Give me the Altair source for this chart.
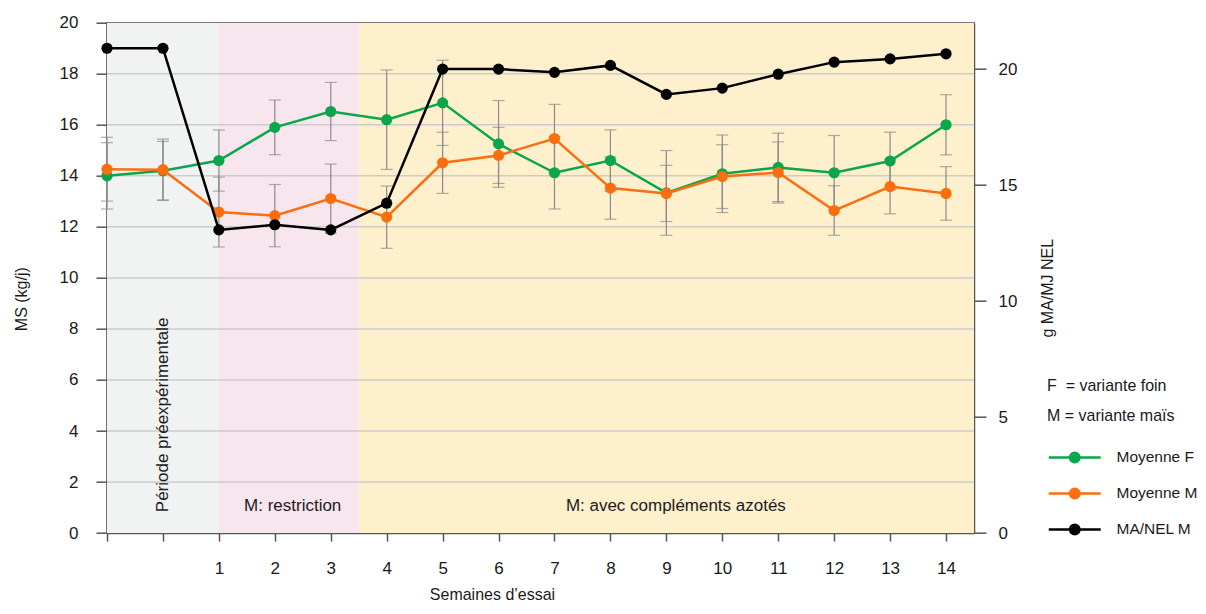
import altair as alt
import pandas as pd

# ---------------- data ----------------
weeks = [-1, 0, 1, 2, 3, 4, 5, 6, 7, 8, 9, 10, 11, 12, 13, 14]
x_tick_values = weeks

f_mean = [14.0, 14.2, 14.6, 15.9, 16.52, 16.2, 16.86, 15.25, 14.12, 14.6, 13.33, 14.08, 14.33, 14.12, 14.58, 16.0]
f_err = [1.3, 1.15, 1.2, 1.07, 1.14, 1.95, 1.67, 1.7, 1.42, 1.2, 1.66, 1.52, 1.34, 1.46, 1.13, 1.18]

m_mean = [14.26, 14.24, 12.58, 12.44, 13.11, 12.38, 14.51, 14.8, 15.46, 13.52, 13.31, 13.97, 14.13, 12.64, 13.58, 13.31]
m_err = [1.25, 1.2, 1.37, 1.22, 1.35, 1.22, 1.2, 1.1, 1.34, 1.22, 1.1, 1.25, 1.2, 0.97, 1.07, 1.05]

nel_m = [20.9, 20.9, 13.07, 13.29, 13.07, 14.22, 20.0, 20.0, 19.86, 20.16, 18.91, 19.18, 19.78, 20.3, 20.44, 20.66]

series_names = ["Moyenne F", "Moyenne M", "MA/NEL M"]
series_colors = ["#0BA64B", "#FA6E10", "#000000"]

band_start = [-1, 1, 3.5]
band_end = [1, 3.5, 14.5]
band_colors = ["#F1F2F2", "#F8E6EE", "#FEF0CD"]

grid_values = [2, 4, 6, 8, 10, 12, 14, 16, 18]
left_ticks = [0, 2, 4, 6, 8, 10, 12, 14, 16, 18, 20]
right_ticks = [0, 5, 10, 15, 20]

note_h_text = ["M: restriction", "M: avec compléments azotés"]
note_h_x = [2.32, 9.17]
note_h_y = [1.07, 1.07]
note_v_text = ["Période préexpérimentale"]
note_v_x = [0.0]
note_v_y = [0.82]

legend_title = ["F\u00a0\u00a0= variante foin", "M\u00a0= variante maïs"]

W, H = 867, 510.4
FONT = "Liberation Sans"
TXT = "#1a1a1a"
AX = "#555555"

# ---------------- frames ----------------
def mk(mean, err, name):
    return pd.DataFrame({
        "week": weeks, "mean": mean,
        "lo": [a - b for a, b in zip(mean, err)],
        "hi": [a + b for a, b in zip(mean, err)],
        "series": name,
    })

f_df = mk(f_mean, f_err, series_names[0])
m_df = mk(m_mean, m_err, series_names[1])
n_df = pd.DataFrame({"week": weeks, "val": nel_m, "series": series_names[2]})
band_df = pd.DataFrame({"start": band_start, "end": band_end, "col": band_colors})
grid_df = pd.DataFrame({"g": grid_values})
noteh_df = pd.DataFrame({"x": note_h_x, "y": note_h_y, "t": note_h_text})
notev_df = pd.DataFrame({"x": note_v_x, "y": note_v_y, "t": note_v_text})

# ---------------- scales / axes ----------------
x_scale = alt.Scale(domain=[-1, 14.5], nice=False, zero=False)
x_axis = alt.Axis(
    values=x_tick_values, labelExpr="datum.value >= 1 ? datum.label : ''",
    title="Semaines d\u2019essai", tickSize=8, labelPadding=19, grid=False,
    titleX=385, titleY=66, titleBaseline="alphabetic", titleAlign="center",
    labelFontSize=17,
)
left_scale = alt.Scale(domain=[0, 20], nice=False, zero=True)
left_axis = alt.Axis(
    values=left_ticks, tickSize=11, labelPadding=18, grid=False,
    title="MS (kg/j)", titleAngle=270, titleX=-86, titleY=276,
    titleBaseline="middle", titleAlign="center", labelFontSize=17,
)
right_scale = alt.Scale(domain=[0, 22], nice=False, zero=True)
right_axis = alt.Axis(
    orient="right", values=right_ticks, tickSize=12, labelPadding=12, grid=False,
    title="g MA/MJ NEL", titleAngle=270, titleX=74, titleY=265,
    titleBaseline="middle", titleAlign="center", labelFontSize=17,
)

def X(field="week"):
    return alt.X(f"{field}:Q", scale=x_scale, axis=x_axis)

def YL(field):
    return alt.Y(f"{field}:Q", scale=left_scale, axis=left_axis)

# legend symbol: a line with a filled dot (unit = 6 px)
half_len = 4.33
r1, r2, r3 = 0.79, 0.375, 0.08
def circ(r):
    return f"M{r},0A{r},{r} 0 1,1 {-r},0A{r},{r} 0 1,1 {r},0Z"
sym_path = f"M{-half_len},0L{half_len},0" + circ(r1) + circ(r2) + circ(r3)

color_scale = alt.Scale(domain=series_names, range=series_colors)
legend = alt.Legend(
    title=legend_title, orient="none", legendX=940, legendY=355,
    symbolType=sym_path, symbolSize=144, symbolStrokeWidth=2.5, symbolOffset=20,
    labelFontSize=15.5, titleFontSize=16, titleFontWeight="normal",
    titleLineHeight=30, titlePadding=26, rowPadding=16, labelOffset=34,
    titleColor=TXT, labelColor=TXT,
)
color_enc = alt.Color("series:N", scale=color_scale, legend=legend)

# ---------------- layers ----------------
bands = alt.Chart(band_df).mark_rect().encode(
    x=X("start"), x2="end", y=alt.Y(datum=20, scale=left_scale, axis=left_axis), y2=alt.datum(0),
    fill=alt.Fill("col:N", scale=None),
)
grid = alt.Chart(grid_df).mark_rule(color="#CCCCCC", strokeWidth=1.5).encode(
    y=YL("g"), x=alt.value(0), x2=alt.value(W)
)
notes_h = alt.Chart(noteh_df).mark_text(fontSize=17, color=TXT, align="center", baseline="middle").encode(
    x=X("x"), y=YL("y"), text="t:N"
)
notes_v = alt.Chart(notev_df).mark_text(fontSize=17, color=TXT, align="left", baseline="middle", angle=270).encode(
    x=X("x"), y=YL("y"), text="t:N"
)

def err_layers(df):
    base = alt.Chart(df)
    rule = base.mark_rule(color="#8A8A8A", strokeWidth=1.2).encode(x=X(), y=YL("lo"), y2="hi")
    lo = base.mark_tick(orient="horizontal", size=12, thickness=1.2, color="#8A8A8A").encode(x=X(), y=YL("lo"))
    hi = base.mark_tick(orient="horizontal", size=12, thickness=1.2, color="#8A8A8A").encode(x=X(), y=YL("hi"))
    return [rule, lo, hi]

def series_layers(df, col):
    base = alt.Chart(df)
    line = base.mark_line(strokeWidth=2.5).encode(x=X(), y=YL("mean"), color=color_enc)
    pts = base.mark_circle(size=125, opacity=1, color=col).encode(x=X(), y=YL("mean"))
    return [line, pts]

left = alt.layer(
    bands, grid, notes_v, notes_h,
    *err_layers(f_df), *err_layers(m_df),
    *series_layers(f_df, series_colors[0]),
    *series_layers(m_df, series_colors[1]),
)

nbase = alt.Chart(n_df)
YR = alt.Y("val:Q", scale=right_scale, axis=right_axis)
right = alt.layer(
    nbase.mark_line(strokeWidth=2.5).encode(x=X(), y=YR, color=color_enc),
    nbase.mark_circle(size=125, opacity=1, color="#000000").encode(x=X(), y=YR),
)

chart = alt.layer(left, right).resolve_scale(y="independent").properties(
    width=W, height=H,
    autosize=alt.AutoSizeParams(type="none"),
    padding={"left": 99, "top": 14.7, "right": 224, "bottom": 72},
).configure(font=FONT).configure_view(
    stroke=AX, strokeWidth=1.5
).configure_axis(
    domainColor=AX, domainWidth=1.5, tickColor=AX, tickWidth=1.5,
    labelColor=TXT, titleColor=TXT, titleFontSize=16, titleFontWeight="normal",
    labelFont=FONT, titleFont=FONT,
).configure_legend(labelFont=FONT, titleFont=FONT)

chart.save("out.html", embed_options={"renderer": "svg", "actions": False})
